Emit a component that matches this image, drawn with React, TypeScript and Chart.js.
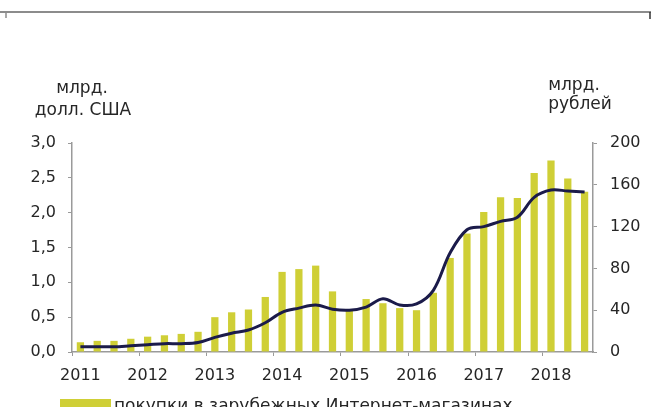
import React, { useEffect, useRef } from 'react';
import { Chart, registerables } from 'chart.js';

Chart.register(...registerables);

const quarterLabels = [
  '2011 Q1', '2011 Q2', '2011 Q3', '2011 Q4',
  '2012 Q1', '2012 Q2', '2012 Q3', '2012 Q4',
  '2013 Q1', '2013 Q2', '2013 Q3', '2013 Q4',
  '2014 Q1', '2014 Q2', '2014 Q3', '2014 Q4',
  '2015 Q1', '2015 Q2', '2015 Q3', '2015 Q4',
  '2016 Q1', '2016 Q2', '2016 Q3', '2016 Q4',
  '2017 Q1', '2017 Q2', '2017 Q3', '2017 Q4',
  '2018 Q1', '2018 Q2', '2018 Q3',
];

const yearTickLabels = [
  '2011', '', '', '',
  '2012', '', '', '',
  '2013', '', '', '',
  '2014', '', '', '',
  '2015', '', '', '',
  '2016', '', '', '',
  '2017', '', '', '',
  '2018', '', '',
];

// bars: purchases in foreign online shops, bn USD (left axis)
const purchasesUsd = [
  0.14, 0.16, 0.16, 0.19,
  0.22, 0.24, 0.26, 0.29,
  0.50, 0.57, 0.61, 0.79,
  1.15, 1.19, 1.24, 0.87,
  0.59, 0.76, 0.70, 0.63,
  0.60, 0.85, 1.35, 1.70,
  2.01, 2.22, 2.21, 2.57,
  2.75, 2.49, 2.30,
];

// line: same purchases, bn RUB (right axis)
const purchasesRub = [
  5, 5, 5, 6,
  7, 8, 8, 9,
  14, 18, 21, 28,
  38, 42, 45, 41,
  40, 43, 51, 45,
  46, 59, 95, 117,
  120, 125, 129, 148,
  155, 154, 153,
];

const barLabel = 'покупки в зарубежных Интернет-магазинах';
const lineLabel = 'покупки в зарубежных Интернет-магазинах, млрд рублей';
const leftTitle = ['млрд.', 'долл. США'];
const rightTitle = ['млрд.', 'рублей'];

const FONT = 'DejaVu Sans';
const TEXT = '#262626';
const AXIS = '#9a9a9a';
const BAR = '#cfcf36';
const LINE = '#1b1b4a';

export default function App() {
  const ref = useRef<HTMLCanvasElement>(null);

  useEffect(() => {
    const canvas = ref.current;
    if (!canvas) return;

    const decor = {
      id: 'decor',
      beforeDraw(chart: any) {
        const ctx = chart.ctx;
        ctx.save();
        ctx.fillStyle = '#ffffff';
        ctx.fillRect(0, 0, chart.width, chart.height);
        // top frame line
        ctx.strokeStyle = '#8c8c8c';
        ctx.lineWidth = 2;
        ctx.beginPath();
        ctx.moveTo(0, 12);
        ctx.lineTo(chart.width, 12);
        ctx.stroke();
        ctx.lineWidth = 1.5;
        ctx.beginPath();
        ctx.moveTo(6, 12);
        ctx.lineTo(6, 18);
        ctx.stroke();
        ctx.strokeStyle = '#333';
        ctx.beginPath();
        ctx.moveTo(650, 12);
        ctx.lineTo(650, 19);
        ctx.stroke();
        ctx.restore();
      },
      afterDraw(chart: any) {
        const ctx = chart.ctx;
        ctx.save();
        ctx.fillStyle = TEXT;
        ctx.textAlign = 'center';
        ctx.textBaseline = 'alphabetic';
        ctx.font = `17px "${FONT}"`;
        ctx.fillText(leftTitle[0], 82, 93);
        ctx.fillText(leftTitle[1], 83, 115);
        ctx.fillText(rightTitle[0], 574, 90);
        ctx.fillText(rightTitle[1], 580, 109);
        // legend (first entry, cut by the page edge)
        const ds = chart.data.datasets[1];
        ctx.fillStyle = ds.backgroundColor;
        ctx.fillRect(60, 399, 51, 12);
        ctx.fillStyle = TEXT;
        ctx.textAlign = 'left';
        ctx.font = `17px "${FONT}"`;
        ctx.fillText(ds.label, 114, 411);
        ctx.restore();
      },
    };

    const tickFont = { family: FONT, size: 16 };

    const chart = new Chart(canvas, {
      type: 'bar',
      data: {
        labels: quarterLabels,
        datasets: [
          {
            type: 'line',
            label: lineLabel,
            data: purchasesRub,
            yAxisID: 'yR',
            borderColor: LINE,
            borderWidth: 3,
            pointRadius: 0,
            tension: 0.35,
            order: 0,
          } as any,
          {
            type: 'bar',
            label: barLabel,
            data: purchasesUsd,
            yAxisID: 'yL',
            backgroundColor: BAR,
            barPercentage: 0.9,
            categoryPercentage: 0.48,
            order: 1,
          } as any,
        ],
      },
      options: {
        responsive: false,
        animation: false,
        layout: { padding: { top: 143, left: 0, right: 0, bottom: 0 } },
        plugins: { legend: { display: false }, tooltip: { enabled: false } },
        scales: {
          x: {
            offset: true,
            grid: {
              offset: true,
              drawOnChartArea: false,
              tickLength: 4,
              color: AXIS,
              tickColor: (c: any) => (c.index % 4 === 0 ? AXIS : 'rgba(0,0,0,0)'),
            },
            border: { color: AXIS, width: 1.5 },
            ticks: {
              autoSkip: false,
              maxRotation: 0,
              padding: 10,
              font: tickFont,
              color: TEXT,
              callback: (_v: any, i: number) => yearTickLabels[i],
            },
            afterFit: (s: any) => {
              s.height = 55;
            },
          },
          yL: {
            position: 'left',
            min: 0,
            max: 3,
            grid: { drawOnChartArea: false, tickLength: 4, color: AXIS },
            border: { color: AXIS, width: 1.5 },
            ticks: {
              stepSize: 0.5,
              padding: 12,
              font: tickFont,
              color: TEXT,
              callback: (v: any) => Number(v).toFixed(1).replace('.', ','),
            },
            afterFit: (s: any) => {
              s.width = 72;
            },
          },
          yR: {
            position: 'right',
            min: 0,
            max: 200,
            grid: { drawOnChartArea: false, tickLength: 4, color: AXIS },
            border: { color: AXIS, width: 1.5 },
            ticks: {
              stepSize: 40,
              padding: 13,
              font: tickFont,
              color: TEXT,
            },
            afterFit: (s: any) => {
              s.width = 58;
            },
          },
        },
      } as any,
      plugins: [decor],
    });

    return () => chart.destroy();
  }, []);

  return (
    <div
      style={{
        position: 'fixed',
        left: 0,
        top: 0,
        width: 651,
        height: 407,
        overflow: 'hidden',
        background: '#fff',
      }}
    >
      <canvas ref={ref} width={651} height={407} style={{ display: 'block' }} />
    </div>
  );
}
